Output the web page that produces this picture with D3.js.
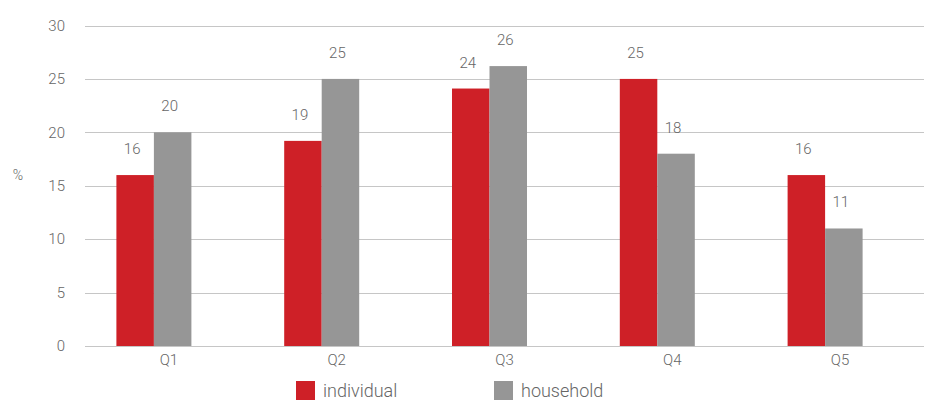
<!DOCTYPE html>
<html lang="en">
<head>
  <meta charset="UTF-8" />
  <title>Quintile chart</title>
  <script src="https://d3js.org/d3.v7.min.js"></script>
  <style>
    body { margin: 0; background: #fff; }
    text { font-family: Roboto, "Liberation Sans", sans-serif; font-weight: 300; fill: #666; }
  </style>
</head>
<body>
  <svg id="chart" width="930" height="402"></svg>

  <script>
    // Data
    const categories = ["Q1", "Q2", "Q3", "Q4", "Q5"];
    const individual = [16, 19.2, 24.1, 25, 16];
    const household = [20, 25, 26.2, 18, 11];
    const labelsIndividual = ["16", "19", "24", "25", "16"];
    const labelsHousehold = ["20", "25", "26", "18", "11"];
    const yTicks = [0, 5, 10, 15, 20, 25, 30];

    const seriesNames = ["individual", "household"];
    const colors = { individual: "#ce2027", household: "#969696" };

    const svg = d3.select("#chart");
    const margin = { top: 25.5, right: 6, bottom: 56, left: 85 };
    const width = +svg.attr("width");
    const height = +svg.attr("height");

    const x = d3.scaleBand()
      .domain(categories)
      .range([margin.left, width - margin.right]);

    const y = d3.scaleLinear()
      .domain([0, 30])
      .range([height - margin.bottom, margin.top]);

    // bars sit a little left of the band centre, like the original
    const barW = 37.5;
    const shift = -15;
    const inner = d3.scaleBand()
      .domain(seriesNames)
      .range([0, barW * 2]);

    // Gridlines
    svg.append("g")
      .selectAll("line")
      .data(yTicks)
      .join("line")
      .attr("x1", margin.left)
      .attr("x2", width - margin.right)
      .attr("y1", d => Math.round(y(d)) + 0.5)
      .attr("y2", d => Math.round(y(d)) + 0.5)
      .attr("stroke", "#c6c6c6")
      .attr("stroke-width", 1.2);

    // Y axis labels
    const yAxis = svg.append("g")
      .attr("transform", `translate(${margin.left}, 0)`)
      .call(d3.axisLeft(y).tickValues(yTicks).tickSize(0).tickPadding(20));
    yAxis.select(".domain").remove();
    yAxis.selectAll("text")
      .attr("font-size", "15px")
      .attr("font-family", null)
      .attr("fill", null);

    svg.append("text")
      .attr("x", 18)
      .attr("y", 180)
      .attr("text-anchor", "middle")
      .attr("font-size", "14px")
      .text("%");

    // X axis labels
    const xAxis = svg.append("g")
      .attr("transform", `translate(0, ${height - margin.bottom})`)
      .call(d3.axisBottom(x).tickSize(0).tickPadding(8));
    xAxis.select(".domain").remove();
    xAxis.selectAll("text")
      .attr("font-size", "15px")
      .attr("font-family", null)
      .attr("fill", null);

    const rows = categories.map((c, i) => ({
      cat: c,
      values: [
        { key: "individual", v: individual[i], label: labelsIndividual[i] },
        { key: "household", v: household[i], label: labelsHousehold[i] }
      ]
    }));

    const groups = svg.append("g")
      .selectAll("g")
      .data(rows)
      .join("g")
      .attr("transform", d => `translate(${x(d.cat) + x.bandwidth() / 2 - barW + shift}, 0)`);

    groups.selectAll("rect")
      .data(d => d.values)
      .join("rect")
      .attr("x", d => inner(d.key))
      .attr("y", d => y(d.v))
      .attr("width", inner.bandwidth())
      .attr("height", d => y(0) - y(d.v))
      .attr("fill", d => colors[d.key]);

    groups.selectAll("text")
      .data(d => d.values)
      .join("text")
      .attr("x", d => inner(d.key) + inner.bandwidth() / 2 - 3)
      .attr("y", d => y(d.v) - 21)
      .attr("text-anchor", "middle")
      .attr("font-size", "15px")
      .text(d => d.label);

    // Legend
    const legendPos = [296, 494];
    const legend = svg.append("g")
      .selectAll("g")
      .data(seriesNames)
      .join("g")
      .attr("transform", (d, i) => `translate(${legendPos[i]}, 381)`);

    legend.append("rect")
      .attr("width", 19)
      .attr("height", 19)
      .attr("fill", d => colors[d]);

    legend.append("text")
      .attr("x", 27)
      .attr("y", 16)
      .attr("font-size", "18px")
      .text(d => d);
  </script>
</body>
</html>
